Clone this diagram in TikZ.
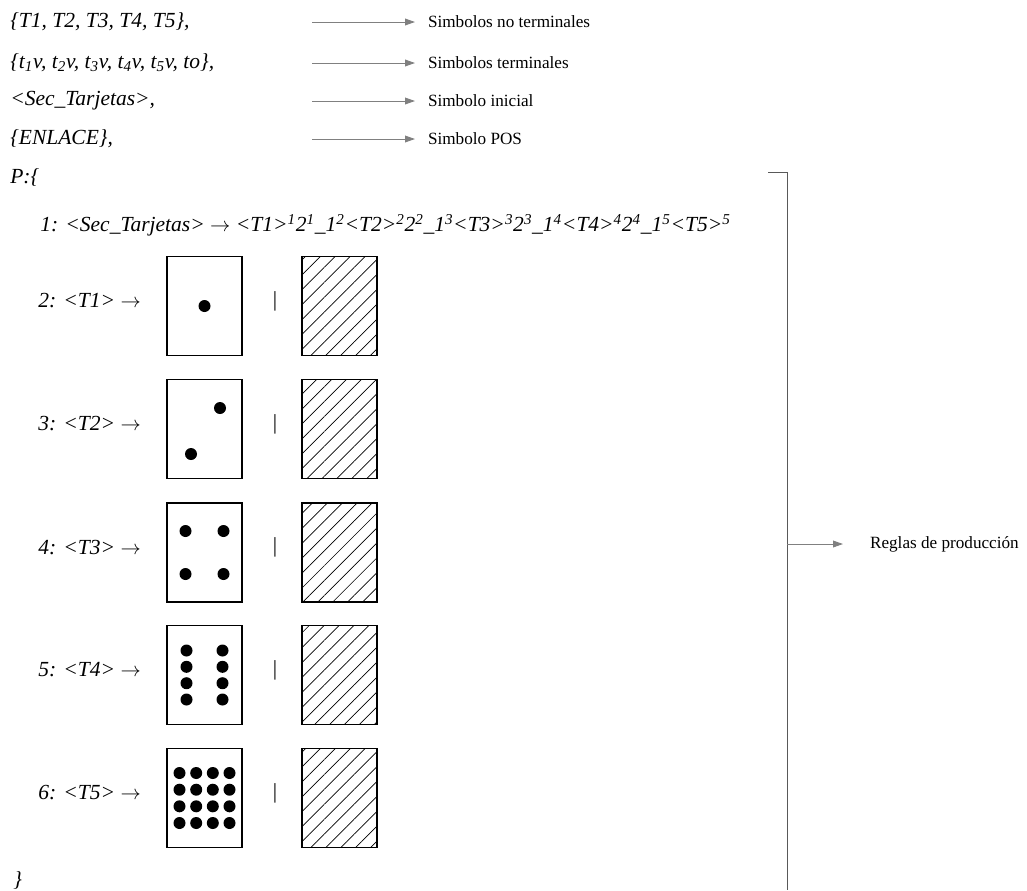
\documentclass[tikz,border=0pt]{standalone}
\usepackage{fontspec}
\setmainfont{Liberation Serif}
\usetikzlibrary{arrows.meta,patterns.meta}

\newcommand\gramfont{\fontsize{15.3}{18}\selectfont\itshape}
\newcommand\lblfont{\fontsize{12.2}{14}\selectfont}
\newcommand\supr[1]{\textsuperscript{#1}}
\newcommand\goesto{\ $\rightarrow$\ }

\tikzset{
  gram/.style={font=\gramfont, anchor=west, inner sep=0pt},
  lbl/.style={font=\lblfont, anchor=west, inner xsep=0.32cm, inner ysep=0pt},
  garrow/.style={gray, line width=0.7pt, -{Triangle[length=0.25cm,width=0.17cm]}},
  card/.style={draw, line width=0.9pt, minimum width=1.875cm, minimum height=2.475cm, inner sep=0pt},
  hcard/.style={card, pattern={Lines[angle=45,distance=7.5pt,line width=0.5pt]}}
}

\begin{document}
\begin{tikzpicture}[x=0.025cm, y=-0.025cm]
  \useasboundingbox (0,0) rectangle (1027,890);
  % the four sets of the grammar
  \node[gram] (g1) at (10,22) {\{T1, T2, T3, T4, T5\},};
  \node[gram] (g2) at (10,63) {\{t\textsubscript{1}v, t\textsubscript{2}v, t\textsubscript{3}v, t\textsubscript{4}v, t\textsubscript{5}v, to\},};
  \node[gram] (g3) at (10,101) {<Sec\_Tarjetas>,};
  \node[gram] (g4) at (10,139) {\{ENLACE\},};
  \node[lbl] (l1) at (415,22) {Simbolos no terminales};
  \node[lbl] (l2) at (415,63) {Simbolos terminales};
  \node[lbl] (l3) at (415,101) {Simbolo inicial};
  \node[lbl] (l4) at (415,139) {Simbolo POS};
  \foreach \i/\y in {1/22,2/63,3/101,4/139} {
    \coordinate (s\i) at (312,\y);
    \draw[garrow] (s\i) -- (l\i);
  }
  % productions
  \node[gram] (pp) at (10,177) {P:\{};
  \node[gram] (r1) at (40,225) {1: <Sec\_Tarjetas>\goesto<T1>\supr{1}2\supr{1}\_1\supr{2}<T2>\supr{2}2\supr{2}\_1\supr{3}<T3>\supr{3}2\supr{3}\_1\supr{4}<T4>\supr{4}2\supr{4}\_1\supr{5}<T5>\supr{5}};
  \foreach \i/\y in {1/306,2/429,3/552.5,4/675,5/798} {
    \pgfmathtruncatemacro{\r}{\i+1}
    \node[gram] (rule\i) at (38,\y-5) {\r: <T\i>\goesto};
    \node[card] (card\i) at (204.5,\y) {};
    \node[font=\gramfont\upshape, inner sep=0pt] (bar\i) at (275,\y-5) {|};
    \node[hcard] (hatch\i) at (339.5,\y) {};
  }
  \node[gram] (pc) at (13,880) {\}};
  % pips on the cards
  \fill (card1.center) circle[radius=0.15cm];
  \foreach \dx/\dy in {15.5/-21,-13.5/25}
    \fill ([shift={(\dx,\dy)}]card2.center) circle[radius=0.15cm];
  \foreach \dx in {-19,19}
    \foreach \dy in {-21.5,21.5}
      \fill ([shift={(\dx,\dy)}]card3.center) circle[radius=0.15cm];
  \foreach \dx in {-18,18}
    \foreach \dy in {-24.5,-8.2,8.2,24.5}
      \fill ([shift={(\dx,\dy)}]card4.center) circle[radius=0.15cm];
  \foreach \dx in {-25,-8.3,8.3,25}
    \foreach \dy in {-25,-8.3,8.3,25}
      \fill ([shift={(\dx,\dy)}]card5.center) circle[radius=0.15cm];
  % bracket over the rules
  \coordinate (btop) at (768,172);
  \coordinate (bend) at (787,890);
  \coordinate (bmid) at (787,544);
  \draw[black!65, line width=0.7pt] (btop) -| (bend);
  \node[lbl] (rules) at (857,544) {Reglas de producción};
  \draw[garrow, shorten >=0.35cm] (bmid) -- (rules);
\end{tikzpicture}
\end{document}
